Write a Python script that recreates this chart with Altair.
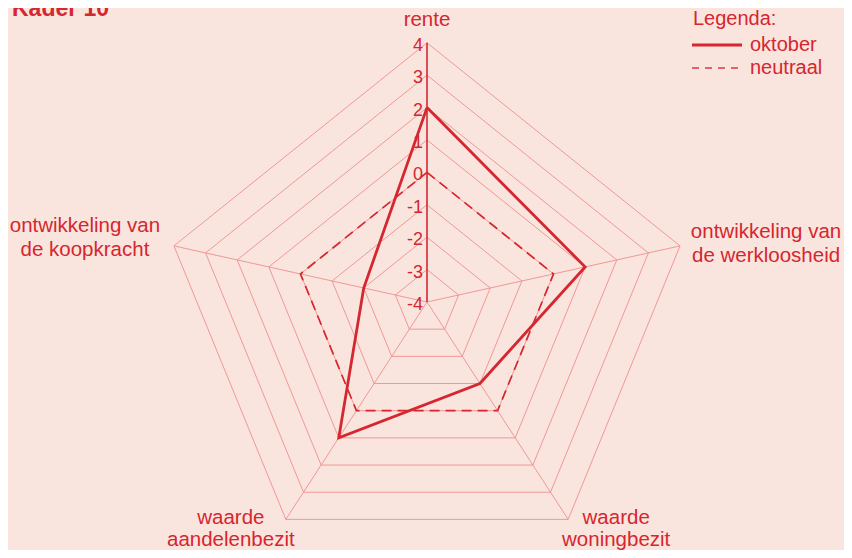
import altair as alt
import pandas as pd
import numpy as np

# ---- data ----
axes = ["rente", "werkloosheid", "woningbezit", "aandelenbezit", "koopkracht"]
axis_labels = ["rente", "ontwikkeling van\nde werkloosheid", "waarde\nwoningbezit",
               "waarde\naandelenbezit", "ontwikkeling van\nde koopkracht"]
angles_deg = [90, 12.5, -57, -123, 167.5]
oktober = [2, 1, -1, 1, -2]
neutraal = [0, 0, 0, 0, 0]
levels = [-4, -3, -2, -1, 0, 1, 2, 3, 4]
series_names = ["oktober", "neutraal"]
title_text = "Kader 10"
legend_title = "Legenda:"

VMIN, VMAX = -4, 4
RED = "#d6262f"
GRID = "#ee8f8f"
BG = "#f9e5de"
FONT = "Liberation Sans"
NARROW = "'Liberation Sans Narrow', 'Liberation Sans', sans-serif"

W, H = 836, 542
U = 32.4            # pixels per unit
CX, CY = 419, 294   # centre in chart pixels
xdom = [-CX / U, (W - CX) / U]
ydom = [(CY - H) / U, CY / U]

ang = np.radians(angles_deg)


def pol(v, i):
    r = v - VMIN
    return r * np.cos(ang[i]), r * np.sin(ang[i])


xs = alt.Scale(domain=xdom, nice=False, zero=False)
ys = alt.Scale(domain=ydom, nice=False, zero=False)
X = lambda f: alt.X(f, type="quantitative", scale=xs, axis=None)
Y = lambda f: alt.Y(f, type="quantitative", scale=ys, axis=None)

# grid pentagons
grid_rows = []
for L in levels[1:]:
    for k in range(len(axes) + 1):
        i = k % len(axes)
        x, y = pol(L, i)
        grid_rows.append({"level": L, "k": k, "x": x, "y": y})
grid_df = pd.DataFrame(grid_rows)

# spokes
spoke_rows = []
for i, a in enumerate(axes):
    x0, y0 = pol(VMIN, i)
    x1, y1 = pol(VMAX, i)
    spoke_rows.append({"axis": a, "x": x0, "y": y0, "x2": x1, "y2": y1, "main": i == 0})
spoke_df = pd.DataFrame(spoke_rows)

# series
ser_rows = []
for name, vals in zip(series_names, [oktober, neutraal]):
    for k in range(len(axes) + 1):
        i = k % len(axes)
        x, y = pol(vals[i], i)
        ser_rows.append({"series": name, "k": k, "x": x, "y": y})
ser_df = pd.DataFrame(ser_rows)

# ticks
tick_df = pd.DataFrame([{"label": str(v), "x": pol(v, 0)[0], "y": pol(v, 0)[1]} for v in levels])

base_grid = alt.Chart(grid_df).mark_line(color=GRID, strokeWidth=0.9).encode(
    x=X("x"), y=Y("y"), detail="level:N", order=alt.Order("k:Q"))

spokes_minor = alt.Chart(spoke_df).transform_filter("!datum.main").mark_rule(
    color=GRID, strokeWidth=0.9).encode(x=X("x"), y=Y("y"), x2="x2", y2="y2")
spoke_main = alt.Chart(spoke_df).transform_filter("datum.main").mark_rule(
    color=RED, strokeWidth=1.6).encode(x=X("x"), y=Y("y"), x2="x2", y2="y2")

line_ok = alt.Chart(ser_df).transform_filter("datum.series == 'oktober'").mark_line(
    color=RED, strokeWidth=2.8, strokeJoin="miter").encode(
    x=X("x"), y=Y("y"), order=alt.Order("k:Q"))
line_ne = alt.Chart(ser_df).transform_filter("datum.series == 'neutraal'").mark_line(
    color=RED, strokeWidth=1.7, strokeDash=[10, 6]).encode(
    x=X("x"), y=Y("y"), order=alt.Order("k:Q"))

ticks = alt.Chart(tick_df).mark_text(
    align="right", baseline="middle", dx=-4, dy=3, fontSize=18, font=NARROW, color=RED
).encode(x=X("x"), y=Y("y"), text="label:N")

# axis labels (anchored at outer vertex, offset in pixels)
label_offsets = [(0, -17, 24), (86, -8, 24), (48, 5, 22), (-55, 5, 22), (-89, -14, 24)]
label_layers = []
for i, (lab, (dx, dy, lh)) in enumerate(zip(axis_labels, label_offsets)):
    x, y = pol(VMAX, i)
    d = pd.DataFrame([{"t": lab, "x": x, "y": y}])
    label_layers.append(alt.Chart(d).mark_text(
        align="center", baseline="alphabetic", dx=dx, dy=dy, fontSize=20.5, font=FONT,
        color=RED, lineBreak="\n", lineHeight=lh).encode(x=X("x"), y=Y("y"), text="t:N"))

# title (partly cut at top, as in the reference)
title = alt.Chart(pd.DataFrame([{"t": title_text}])).mark_text(
    align="left", baseline="alphabetic", fontSize=23, fontWeight="bold", font=FONT, color=RED
).encode(x=alt.value(4), y=alt.value(8), text="t:N")

# legend
leg_title = alt.Chart(pd.DataFrame([{"t": legend_title}])).mark_text(
    align="left", baseline="alphabetic", fontSize=20, font=FONT, color=RED
).encode(x=alt.value(685), y=alt.value(17), text="t:N")
leg_solid = alt.Chart(pd.DataFrame([{"a": 0}])).mark_rule(color=RED, strokeWidth=2.8).encode(
    x=alt.value(684), x2=alt.value(734), y=alt.value(37))
leg_dash = alt.Chart(pd.DataFrame([{"a": 0}])).mark_rule(
    color="#e0646c", strokeWidth=1.8, strokeDash=[7, 6]).encode(
    x=alt.value(684), x2=alt.value(734), y=alt.value(60))
leg_l1 = alt.Chart(pd.DataFrame([{"t": series_names[0]}])).mark_text(
    align="left", baseline="alphabetic", fontSize=20, font=FONT, color=RED
).encode(x=alt.value(742), y=alt.value(43), text="t:N")
leg_l2 = alt.Chart(pd.DataFrame([{"t": series_names[1]}])).mark_text(
    align="left", baseline="alphabetic", fontSize=20, font=FONT, color=RED
).encode(x=alt.value(742), y=alt.value(66), text="t:N")

chart = alt.layer(
    base_grid, spokes_minor, line_ne, line_ok, spoke_main, ticks, *label_layers,
    title, leg_title, leg_solid, leg_dash, leg_l1, leg_l2
).properties(
    width=W, height=H, autosize=alt.AutoSizeParams(type="none"), padding=0, background=BG
).configure_view(stroke=None)

chart.save("out.html", embed_options={"renderer": "svg", "actions": False})
